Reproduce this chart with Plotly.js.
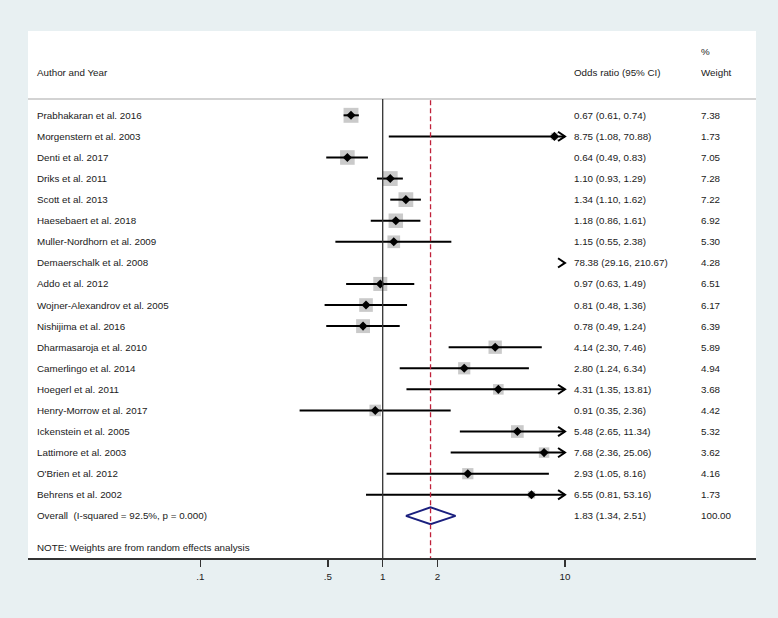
<!DOCTYPE html>
<html>
<head>
<meta charset="utf-8">
<script src="https://cdn.plot.ly/plotly-3.0.1.min.js"></script>
<style>html,body{margin:0;padding:0;background:#e8f0f2;}#chart{width:778px;height:618px;}</style>
</head>
<body>
<div id="chart"></div>
<script>
// ---- data ----
const studies = ["Prabhakaran et al. 2016","Morgenstern et al. 2003","Denti et al. 2017","Driks et al. 2011","Scott et al. 2013","Haesebaert et al. 2018","Muller-Nordhorn et al. 2009","Demaerschalk et al. 2008","Addo et al. 2012","Wojner-Alexandrov et al. 2005","Nishijima et al. 2016","Dharmasaroja et al. 2010","Camerlingo et al. 2014","Hoegerl et al. 2011","Henry-Morrow et al. 2017","Ickenstein et al. 2005","Lattimore et al. 2003","O'Brien et al. 2012","Behrens et al. 2002"];
const orEst = [0.67,8.75,0.64,1.10,1.34,1.18,1.15,78.38,0.97,0.81,0.78,4.14,2.80,4.31,0.91,5.48,7.68,2.93,6.55];
const ciLow = [0.61,1.08,0.49,0.93,1.10,0.86,0.55,29.16,0.63,0.48,0.49,2.30,1.24,1.35,0.35,2.65,2.36,1.05,0.81];
const ciHigh = [0.74,70.88,0.83,1.29,1.62,1.61,2.38,210.67,1.49,1.36,1.24,7.46,6.34,13.81,2.36,11.34,25.06,8.16,53.16];
const weights = [7.38,1.73,7.05,7.28,7.22,6.92,5.30,4.28,6.51,6.17,6.39,5.89,4.94,3.68,4.42,5.32,3.62,4.16,1.73];
const overallLabel = "Overall  (I-squared = 92.5%, p = 0.000)";
const overall = {est:1.83, lo:1.34, hi:2.51, weight:100.00};
const tickVals = [0.1,0.5,1,2,10];
const tickText = [".1",".5","1","2","10"];
const noteText = "NOTE: Weights are from random effects analysis";

// ---- layout constants ----
const XMAX = 10;
const nRows = studies.length;
const overallRow = nRows;
const FONT = {family:"'Liberation Sans', Arial, sans-serif", size:9.8, color:"#1a1a1a"};
const fmt = v => v.toFixed(2);

const traces = [];
// weight boxes
const bx=[], by=[], bs=[];
for (let i=0;i<nRows;i++){ if (orEst[i] <= XMAX){ bx.push(orEst[i]); by.push(i); bs.push(Math.sqrt(weights[i])*5.5);} }
traces.push({type:'scatter', mode:'markers', x:bx, y:by, marker:{symbol:'square', size:bs, color:'#b3b3b3', line:{width:0}}, hoverinfo:'skip'});
// CI lines
const lx=[], ly=[];
for (let i=0;i<nRows;i++){
  if (ciLow[i] < XMAX){ lx.push(ciLow[i], Math.min(ciHigh[i], XMAX), null); ly.push(i,i,null); }
}
traces.push({type:'scatter', mode:'lines', x:lx, y:ly, line:{color:'#000', width:2}, hoverinfo:'skip'});
// arrowheads (chevrons) for CIs beyond the axis
const ax=[], ay=[];
const back = XMAX*Math.pow(10,-0.038);
for (let i=0;i<nRows;i++){
  if (ciHigh[i] > XMAX){ ax.push(back, XMAX, back, null); ay.push(i-0.22, i, i+0.22, null); }
}
traces.push({type:'scatter', mode:'lines', x:ax, y:ay, line:{color:'#000', width:2}, hoverinfo:'skip'});
// point estimates
const px=[], py=[];
for (let i=0;i<nRows;i++){ if (orEst[i] <= XMAX){ px.push(orEst[i]); py.push(i);} }
traces.push({type:'scatter', mode:'markers', x:px, y:py, marker:{symbol:'diamond', size:7, color:'#000'}, hoverinfo:'skip'});
// overall diamond
traces.push({type:'scatter', mode:'lines', x:[overall.lo, overall.est, overall.hi, overall.est, overall.lo],
  y:[overallRow, overallRow-0.4, overallRow, overallRow+0.4, overallRow], line:{color:'#1a1f7e', width:2}, hoverinfo:'skip'});

// ---- annotations ----
const L0=28, PW=728;
const px2paper = p => (p-L0)/PW;
const colLabel = px2paper(37), colOR = px2paper(574), colW = px2paper(701);
const ann = [];
function t(x,y,text){ ann.push({xref:'paper', yref:'y', x:x, y:y, text:text, showarrow:false, xanchor:'left', yanchor:'middle', xshift:-2, font:FONT}); }
t(colLabel, -2.02, "Author and Year");
t(colOR, -2.02, "Odds ratio (95% CI)");
t(colW, -3.01, "%");
t(colW, -2.02, "Weight");
for (let i=0;i<nRows;i++){
  t(colLabel, i, studies[i]);
  t(colOR, i, fmt(orEst[i])+" ("+fmt(ciLow[i])+", "+fmt(ciHigh[i])+")");
  t(colW, i, fmt(weights[i]));
}
t(colLabel, overallRow, overallLabel);
t(colOR, overallRow, fmt(overall.est)+" ("+fmt(overall.lo)+", "+fmt(overall.hi)+")");
t(colW, overallRow, fmt(overall.weight));
t(colLabel, 20.52, noteText);

const shapes = [
  {type:'line', xref:'paper', yref:'y', x0:0, x1:1, y0:-0.78, y1:-0.78, line:{color:'#c4c4c4', width:1.5}},
  {type:'line', xref:'x', yref:'y', x0:1, x1:1, y0:-0.78, y1:21, line:{color:'#333', width:1.3}},
  {type:'line', xref:'x', yref:'y', x0:overall.est, x1:overall.est, y0:-0.72, y1:21, line:{color:'#c0203a', width:1.3, dash:'5px,3px'}}
];

const layout = {
  width:778, height:618,
  margin:{l:28, r:22, t:31, b:60, pad:0},
  paper_bgcolor:'#e8f0f2', plot_bgcolor:'#ffffff',
  showlegend:false,
  xaxis:{type:'log', range:[-1.946, 2.048], tickvals:tickVals, ticktext:tickText, showgrid:false, zeroline:false,
    ticks:'outside', ticklen:7, tickwidth:1.5, tickcolor:'#333', showline:true, linecolor:'#333', linewidth:1.5,
    tickfont:{family:FONT.family, size:9.8, color:'#1a1a1a'}, ticklabelstandoff:2, fixedrange:true},
  yaxis:{range:[21,-4], showgrid:false, zeroline:false, showticklabels:false, showline:false, ticks:'', fixedrange:true},
  annotations:ann, shapes:shapes
};
Plotly.newPlot('chart', traces, layout, {displayModeBar:false, staticPlot:true});
</script>
</body>
</html>
